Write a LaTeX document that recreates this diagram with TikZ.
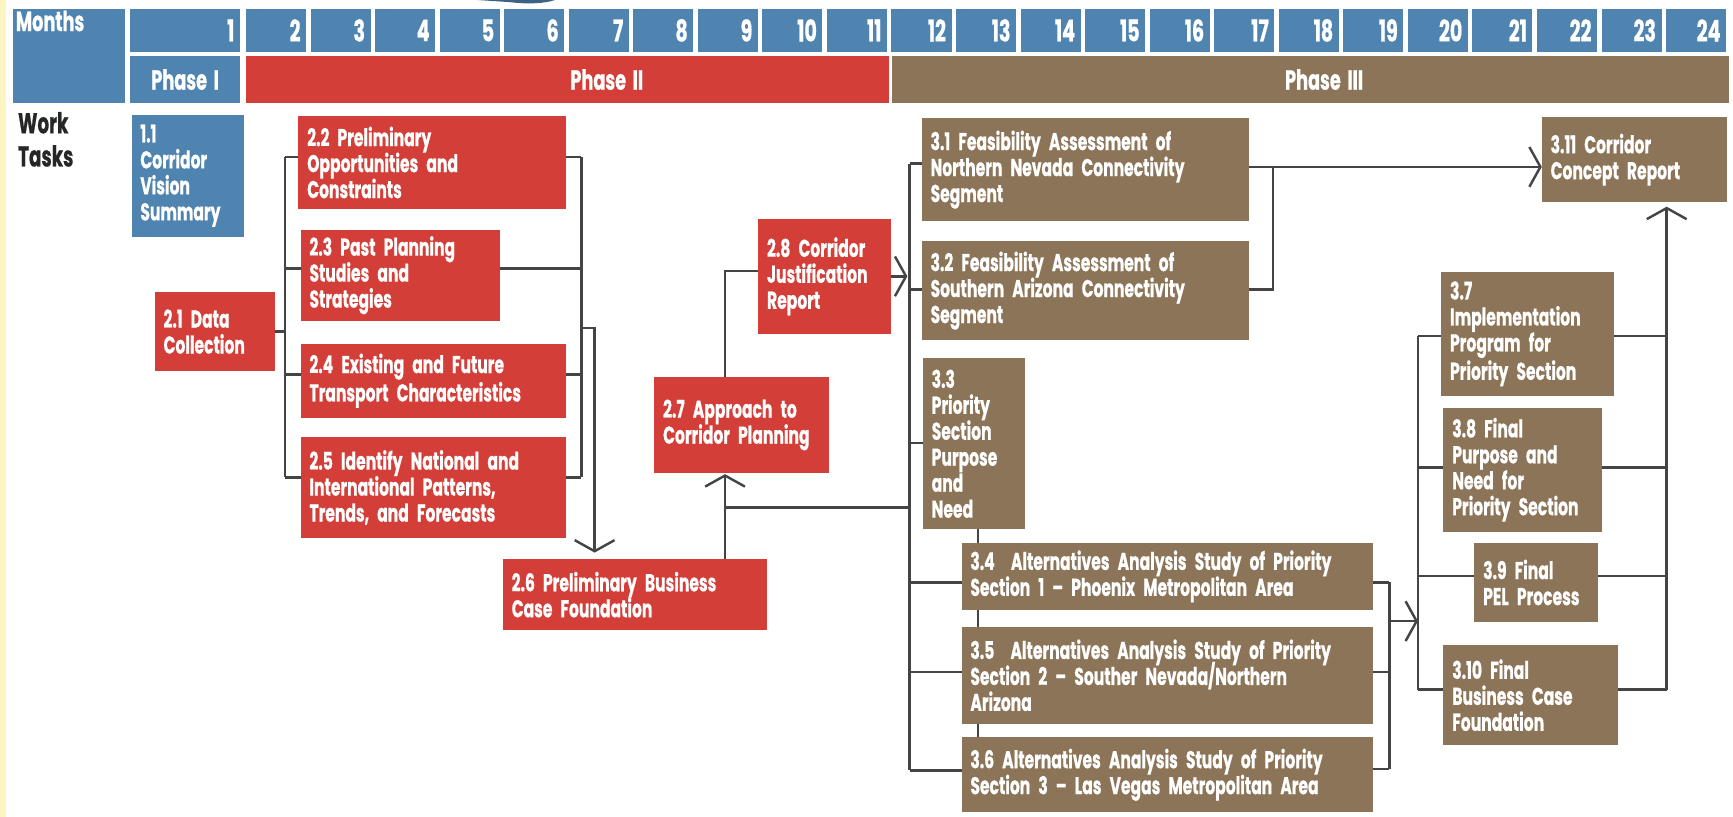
\documentclass[tikz,border=0pt]{standalone}
\usepackage{fontspec}
\setmainfont{Poppins}[FakeStretch=0.64,WordSpace=0.8,BoldFeatures={FakeBold=0.6}]
\usetikzlibrary{arrows.meta}
\definecolor{hblue}{RGB}{80,132,176}
\definecolor{tred}{RGB}{211,62,56}
\definecolor{tbrown}{RGB}{140,116,88}
\definecolor{lgray}{RGB}{68,68,68}
\definecolor{pyellow}{RGB}{252,245,195}
\newcommand\taskbox[7]{%
  \pgfmathsetmacro\bw{(#5-#3)*0.5}%
  \pgfmathsetmacro\bh{(#6-#4)*0.5}%
  \pgfmathsetmacro\tw{(#5-#3)*0.5-8}%
  \node[task,fill=#2,minimum width=\bw pt,minimum height=\bh pt,text width=\tw pt] (#1) at (#3,#4) {\lineskiplimit=-8pt\relax #7};}
\tikzset{
  task/.style={draw=none,anchor=north west,inner xsep=4pt,inner ysep=0pt,outer sep=0pt,
    align=left,text=white,font=\bfseries\fontsize{11}{11.75}\selectfont},
  mcell/.style={fill=hblue,text=white,anchor=north west,minimum height=19.5pt,inner xsep=2.5pt,
    inner ysep=0pt,outer sep=0pt,align=right,font=\bfseries\fontsize{13.5}{13.5}\selectfont},
  pcell/.style={anchor=north west,minimum height=21pt,inner sep=0pt,outer sep=0pt},
  htext/.style={text=white,inner sep=0pt,font=\bfseries\fontsize{12.5}{12.5}\selectfont},
  conn/.style={draw=lgray,line width=1.1pt},
  arr/.style={-{Straight Barb[length=5pt,width=18pt]}}
}
\begin{document}
\begin{tikzpicture}[x=0.5pt,y=-0.5pt]
\useasboundingbox (0,0) rectangle (1568,739);
\fill[pyellow] (0,0) rectangle (5,739);
\fill[hblue!75!black] (432,0) -- (502,0) .. controls (494,3) and (478,4) .. (462,2) -- cycle;
% header
\node[pcell,fill=hblue,minimum width=50.5pt,minimum height=42.5pt] (monthcell) at (12,8) {};
\node[htext,anchor=west] (monthtxt) at (14,19) {Months};
\node[mcell,minimum width=49.5pt,text width=44.5pt] (mon1) at (118,8) {1};
\foreach \k in {2,...,24}{
  \pgfmathsetmacro\xs{222.6+(\k-2)*58.4}
  \node[mcell,minimum width=27.15pt,text width=22.15pt] (mon\k) at (\xs,8) {\k};
}
\node[pcell,fill=hblue,minimum width=49.5pt] (ph1) at (118,51) {};
\node[htext] (ph1t) at (ph1.center) {Phase\hspace{3pt}I};
\node[pcell,fill=tred,minimum width=290.8pt] (ph2) at (222.6,51) {};
\node[htext] (ph2t) at (549,72) {Phase\hspace{3pt}II};
\node[pcell,fill=tbrown,minimum width=378.6pt] (ph3) at (807,51) {};
\node[htext] (ph3t) at (1198,72) {Phase\hspace{3pt}III};
\node[anchor=north west,align=left,inner sep=0pt,text=black!85,font=\bfseries\fontsize{13}{15}\selectfont] (work) at (16,101) {Work\\Tasks};
% tasks
\taskbox{t11}{hblue}{119}{104}{221}{214}{1.1\\Corridor\\Vision\\Summary}
\taskbox{t21}{tred}{140}{264}{249}{336}{2.1 Data\\Collection}
\taskbox{t22}{tred}{270}{105}{512}{189}{2.2 Preliminary\\Opportunities and\\Constraints}
\taskbox{t23}{tred}{272}{208}{452}{290}{2.3 Past Planning\\Studies and\\Strategies}
\taskbox{t24}{tred}{272}{311}{512}{378}{2.4 Existing and Future\\Transport Characteristics}
\taskbox{t25}{tred}{272}{395}{512}{487}{2.5 Identify National and\\International Patterns,\\Trends, and Forecasts}
\taskbox{t26}{tred}{455}{506}{694}{570}{2.6 Preliminary Business\\Case Foundation}
\taskbox{t27}{tred}{592}{341}{750}{428}{2.7 Approach to\\Corridor Planning}
\taskbox{t28}{tred}{686}{198}{806}{302}{2.8 Corridor\\Justification\\Report}
\taskbox{t31}{tbrown}{834}{107}{1130}{200}{3.1 Feasibility Assessment of\\Northern Nevada Connectivity\\Segment}
\taskbox{t32}{tbrown}{834}{218}{1130}{308}{3.2 Feasibility Assessment of\\Southern Arizona Connectivity\\Segment}
\taskbox{t33}{tbrown}{835}{324}{927}{479}{3.3\\Priority\\Section\\Purpose\\and\\Need}
\taskbox{t34}{tbrown}{870}{491}{1242}{552}{3.4\ \ Alternatives Analysis Study of Priority\\Section 1 -- Phoenix Metropolitan Area}
\taskbox{t35}{tbrown}{870}{567}{1242}{655}{3.5\ \ Alternatives Analysis Study of Priority\\Section 2 -- Souther Nevada\smash{/}Northern\\Arizona}
\taskbox{t36}{tbrown}{870}{667}{1242}{735}{3.6 Alternatives Analysis Study of Priority\\Section 3 -- Las Vegas Metropolitan Area}
\taskbox{t37}{tbrown}{1304}{246}{1460}{358}{3.7\\Implementation\\Program for\\Priority Section}
\taskbox{t38}{tbrown}{1306}{369}{1449}{481}{3.8 Final\\Purpose and\\Need for\\Priority Section}
\taskbox{t39}{tbrown}{1334}{491}{1446}{563}{3.9 Final\\PEL Process}
\taskbox{t310}{tbrown}{1306}{584}{1464}{674}{3.10 Final\\Business Case\\Foundation}
\taskbox{t311}{tbrown}{1395}{106}{1563}{183}{3.11 Corridor\\Concept Report}
% group A left bus
\coordinate (ja22) at (258,142);
\coordinate (ja23) at (258,243);
\coordinate (ja21) at (258,300);
\coordinate (ja24) at (258,339);
\coordinate (ja25) at (258,432);
\draw[conn] (ja22) -- (ja25);
\draw[conn] (t22.west |- ja22) -- (ja22);
\draw[conn] (t23.west |- ja23) -- (ja23);
\draw[conn] (t21.east |- ja21) -- (ja21);
\draw[conn] (t24.west |- ja24) -- (ja24);
\draw[conn] (t25.west |- ja25) -- (ja25);
% group A right bus
\coordinate (jb22) at (526,142);
\coordinate (jb23) at (526,243);
\coordinate (jb24) at (526,339);
\coordinate (jb25) at (526,432);
\coordinate (jbo) at (526,297);
\coordinate (jbc) at (538,297);
\draw[conn] (jb22) -- (jb25);
\draw[conn] (t22.east |- jb22) -- (jb22);
\draw[conn] (t23.east |- jb23) -- (jb23);
\draw[conn] (t24.east |- jb24) -- (jb24);
\draw[conn] (t25.east |- jb25) -- (jb25);
\draw[conn,arr,shorten >=3pt] (jbo) -- (jbc) -- (jbc |- t26.north);
% 2.6 -> 2.7 -> 2.8
\coordinate (jc) at (656,459);
\coordinate (jd) at (823,459);
\coordinate (je) at (656,245);
\coordinate (jf) at (821,250);
\draw[conn,arr,shorten >=0.5pt] (t26.north -| jc) -- (t27.south -| jc);
\draw[conn] (jc) -- (jd);
\draw[conn] (t27.north -| je) -- (je) -- (t28.west |- je);
\draw[conn,arr] (t28.east |- jf) -- (jf);
% phase III left bus
\coordinate (jg1) at (823,148);
\coordinate (jg2) at (823,262);
\coordinate (jg3) at (823,401);
\coordinate (jg4) at (823,527);
\coordinate (jg5) at (823,608);
\coordinate (jg6) at (823,697);
\draw[conn] (jg1) -- (jg6);
\draw[conn] (jg1) -- (t31.west |- jg1);
\draw[conn] (jg2) -- (t32.west |- jg2);
\draw[conn] (jg3) -- (t33.west |- jg3);
\draw[conn] (jg4) -- (t34.west |- jg4);
\draw[conn] (jg5) -- (t35.west |- jg5);
\draw[conn] (jg6) -- (t36.west |- jg6);
\coordinate (jh) at (885,500);
\draw[conn] (t33.south -| jh) -- (t34.north -| jh);
\draw[conn] (t34.south -| jh) -- (t35.north -| jh);
\draw[conn] (t35.south -| jh) -- (t36.north -| jh);
% 3.1/3.2 -> 3.11
\coordinate (jk) at (1152,151);
\coordinate (jk2) at (1152,262);
\draw[conn,arr] (t31.east |- jk) -- (t311.west |- jk);
\draw[conn] (t32.east |- jk2) -- (jk2) -- (jk);
% 3.4-3.6 -> 3.7-3.10
\coordinate (jm4) at (1257,527);
\coordinate (jm5) at (1257,608);
\coordinate (jm6) at (1257,696);
\coordinate (jmo) at (1257,562);
\draw[conn] (jm4) -- (jm6);
\draw[conn] (t34.east |- jm4) -- (jm4);
\draw[conn] (t35.east |- jm5) -- (jm5);
\draw[conn] (t36.east |- jm6) -- (jm6);
\coordinate (jn7) at (1283,304);
\coordinate (jn8) at (1283,423);
\coordinate (jn9) at (1283,521);
\coordinate (jn10) at (1283,624);
\coordinate (jno) at (1283,562);
\draw[conn,arr] (jmo) -- (jno);
\draw[conn] (jn7) -- (jn10);
\draw[conn] (jn7) -- (t37.west |- jn7);
\draw[conn] (jn8) -- (t38.west |- jn8);
\draw[conn] (jn9) -- (t39.west |- jn9);
\draw[conn] (jn10) -- (t310.west |- jn10);
\coordinate (jq7) at (1508,304);
\coordinate (jq8) at (1508,423);
\coordinate (jq9) at (1508,521);
\coordinate (jq10) at (1508,624);
\draw[conn] (t37.east |- jq7) -- (jq7);
\draw[conn] (t38.east |- jq8) -- (jq8);
\draw[conn] (t39.east |- jq9) -- (jq9);
\draw[conn] (t310.east |- jq10) -- (jq10);
\draw[conn,arr,shorten >=2pt] (jq10) -- (t311.south -| jq10);
\end{tikzpicture}
\end{document}
